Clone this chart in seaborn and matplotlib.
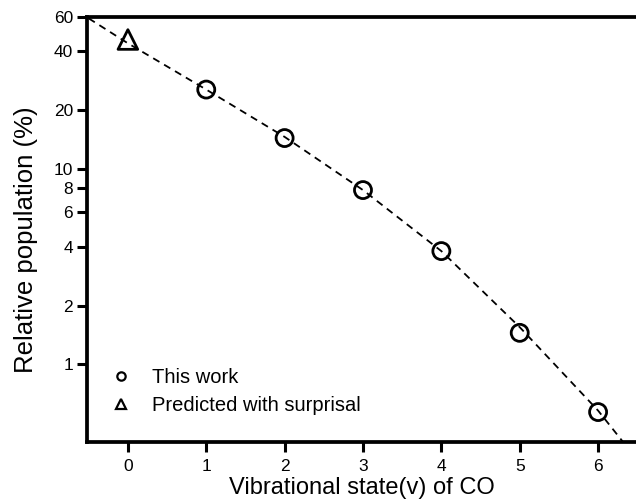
import numpy as np
import pandas as pd
import matplotlib.pyplot as plt
from matplotlib.lines import Line2D
import seaborn as sns

# data
v_measured = [1, 2, 3, 4, 5, 6]
pop_measured = [25.5, 14.4, 7.8, 3.8, 1.45, 0.57]
v_predicted = [0]
pop_predicted = [46]
# dashed fit curve
v_fit = [-0.5, 0, 1, 2, 3, 4, 5, 6, 6.32]
pop_fit = [59, 44, 25.5, 14.6, 7.8, 3.8, 1.55, 0.58, 0.4]

sns.set_style("ticks", {"axes.edgecolor": "black", "xtick.color": "black",
                        "ytick.color": "black", "text.color": "black",
                        "axes.labelcolor": "black"})
plt.rcParams["font.family"] = ["Liberation Sans", "DejaVu Sans"]

fig = plt.figure(figsize=(6.36, 4.99), dpi=100)
ax = fig.add_axes([0.137, 0.114, 0.865, 0.852])

fit = pd.DataFrame({"v": v_fit, "pop": pop_fit})
sns.lineplot(data=fit, x="v", y="pop", color="black", linestyle=(0, (4, 3)),
             linewidth=1.3, ax=ax)
sns.scatterplot(x=v_measured, y=pop_measured, marker="o", s=150, facecolor="none",
                edgecolor="black", linewidth=2, ax=ax, zorder=3)
sns.scatterplot(x=v_predicted, y=pop_predicted, marker="^", s=200, facecolor="none",
                edgecolor="black", linewidth=2, ax=ax, zorder=3)

ax.set_yscale("log")
ax.set_ylim(0.4, 60)
ax.set_xlim(-0.52, 6.5)

yt = [1, 2, 4, 6, 8, 10, 20, 40, 60]
ax.set_yticks(yt)
ax.set_yticklabels([str(t) for t in yt])
ax.yaxis.set_minor_locator(plt.NullLocator())
ax.set_xticks(range(0, 7))

ax.tick_params(axis="both", which="major", direction="out", length=7, width=2.2,
               labelsize=12.5)
ax.tick_params(axis="x", pad=5)
ax.tick_params(axis="y", pad=3)

for s in ["left", "bottom", "top"]:
    ax.spines[s].set_linewidth(2.7)
ax.spines["right"].set_visible(False)

ax.set_xlabel("Vibrational state(v) of CO", fontsize=17, labelpad=2)
ax.set_ylabel("Relative population (%)", fontsize=18.5)
ax.yaxis.set_label_coords(-0.09, 0.475)

handles = [
    Line2D([], [], marker="o", linestyle="none", markerfacecolor="none",
           markeredgecolor="black", markeredgewidth=1.6, markersize=6),
    Line2D([], [], marker="^", linestyle="none", markerfacecolor="none",
           markeredgecolor="black", markeredgewidth=1.6, markersize=7),
]
ax.legend(handles, ["This work", "Predicted with surprisal"], loc="lower left",
          bbox_to_anchor=(0.02, 0.045), frameon=False, fontsize=14.5,
          handletextpad=0.75, labelspacing=0.42, borderaxespad=0, handlelength=1.5)

fig.savefig("out.png", dpi=100, facecolor="white")
